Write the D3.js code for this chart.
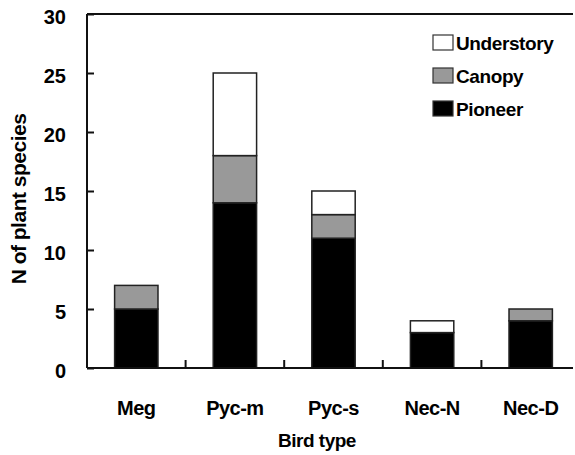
<html>
<script src="https://d3js.org/d3.v7.min.js"></script>
<style>
    body { margin: 0; background: #fff; }
    text { font-family: "Liberation Sans", Arial, sans-serif; fill: #000; }
</style>

<body>
    <script>
        var width = 575;
        var height = 455;

        var birdTypes = ["Meg", "Pyc-m", "Pyc-s", "Nec-N", "Nec-D"];
        var pioneer = [5, 14, 11, 3, 4];
        var canopy = [2, 4, 2, 0, 1];
        var understory = [0, 7, 2, 1, 0];
        var seriesNames = ["Pioneer", "Canopy", "Understory"];
        var seriesColors = ["#000000", "#999999", "#ffffff"];
        var yTicks = [0, 5, 10, 15, 20, 25, 30];

        var rows = birdTypes.map((b, i) => ({
            type: b, Pioneer: pioneer[i], Canopy: canopy[i], Understory: understory[i]
        }));

        var svg = d3.select("body").append("svg")
            .attr("width", width)
            .attr("height", height);

        var plotLeft = 87, plotRight = 580, plotTop = 14, plotBottom = 368;

        var x = d3.scaleBand().domain(birdTypes).range([plotLeft, plotRight])
            .paddingInner(0.56).paddingOuter(0.28);
        var y = d3.scaleLinear().domain([0, 30]).range([plotBottom, plotTop]);

        var stack = d3.stack().keys(seriesNames)(rows);
        var color = d3.scaleOrdinal().domain(seriesNames).range(seriesColors);

        // bars
        stack.forEach(s => {
            svg.append("g").selectAll("rect")
                .data(s.filter(d => d[1] > d[0]))
                .enter().append("rect")
                .attr("x", d => x(d.data.type))
                .attr("width", x.bandwidth())
                .attr("y", d => y(d[1]))
                .attr("height", d => y(d[0]) - y(d[1]))
                .attr("fill", color(s.key))
                .attr("stroke", "#222")
                .attr("stroke-width", 1.5);
        });

        // frame
        svg.append("line").attr("x1", plotLeft).attr("x2", 573).attr("y1", plotTop).attr("y2", plotTop)
            .attr("stroke", "#111").attr("stroke-width", 2);
        svg.append("line").attr("x1", plotLeft).attr("x2", 573).attr("y1", plotBottom).attr("y2", plotBottom)
            .attr("stroke", "#111").attr("stroke-width", 2);
        svg.append("line").attr("x1", plotLeft).attr("x2", plotLeft).attr("y1", plotTop).attr("y2", plotBottom)
            .attr("stroke", "#111").attr("stroke-width", 2);

        // y axis
        var yAxis = d3.axisLeft(y).tickValues(yTicks).tickSize(-7).tickPadding(21);
        var ga = svg.append("g").attr("transform", `translate(${plotLeft},3)`).call(yAxis);
        ga.select(".domain").remove();
        ga.selectAll(".tick line").attr("stroke", "#111").attr("stroke-width", 2)
            .attr("transform", "translate(0,-3)");
        ga.selectAll(".tick text").attr("font-size", 20).attr("font-family", "Liberation Sans, Arial, sans-serif")
            .attr("fill", "#000").attr("font-weight", "bold");

        // x category separators (ticks pointing up)
        var seps = birdTypes.map(b => x(b) - x.step() * x.paddingInner() / 2);
        svg.append("g").selectAll("line").data(seps).enter().append("line")
            .attr("x1", d => d).attr("x2", d => d)
            .attr("y1", plotBottom).attr("y2", plotBottom - 8)
            .attr("stroke", "#111").attr("stroke-width", 2);

        // x labels
        svg.append("g").selectAll("text").data(birdTypes).enter().append("text")
            .attr("x", d => x(d) + x.bandwidth() / 2)
            .attr("y", 415)
            .attr("text-anchor", "middle")
            .attr("font-size", 20)
            .attr("font-weight", "bold")
            .attr("letter-spacing", -0.5)
            .text(d => d);

        svg.append("text")
            .attr("x", 317).attr("y", 447)
            .attr("text-anchor", "middle")
            .attr("font-size", 19)
            .attr("font-weight", "bold")
            .attr("letter-spacing", -0.5)
            .text("Bird type");

        svg.append("text")
            .attr("transform", "translate(26,199) rotate(-90)")
            .attr("text-anchor", "middle")
            .attr("font-size", 21)
            .attr("font-weight", "bold")
            .attr("letter-spacing", -0.5)
            .text("N of plant species");

        // legend
        var legendItems = seriesNames.slice().reverse();
        var lg = svg.append("g").selectAll("g").data(legendItems).enter().append("g")
            .attr("transform", (d, i) => `translate(433,${35 + i * 33})`);
        lg.append("rect").attr("width", 20).attr("height", 15)
            .attr("fill", d => color(d)).attr("stroke", "#333").attr("stroke-width", 1.2);
        lg.append("text").attr("x", 23).attr("y", 15)
            .attr("font-size", 19).attr("font-weight", "bold")
            .attr("letter-spacing", -0.4)
            .text(d => d);
    </script>
</body>

</html>
